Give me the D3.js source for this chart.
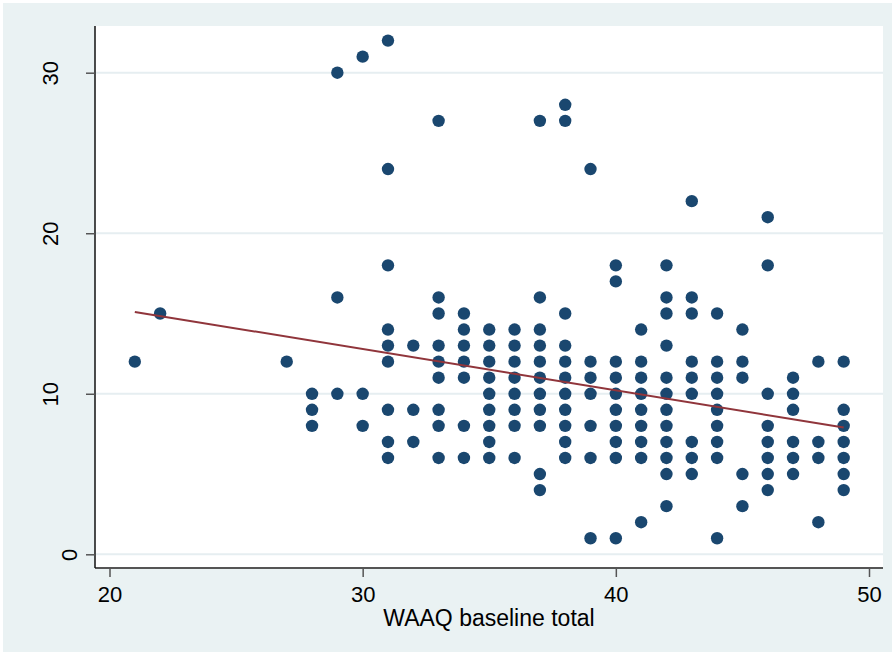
<!DOCTYPE html>
<html>
<head>
<meta charset="utf-8">
<script src="https://cdn.jsdelivr.net/npm/d3@7"></script>
<style>
  html, body { margin: 0; padding: 0; background: #ffffff; }
  svg { display: block; }
  text { font-family: "Liberation Sans", Arial, sans-serif; fill: #000; }
</style>
</head>
<body>
<div id="chart"></div>
<script>
"use strict";

//-----------------------------DATA-----------------------------//
// x = WAAQ baseline total, y = outcome score (one entry per visible dot)
const waaq = [
  21, 22, 27,
  28, 28, 28,
  29, 29, 29,
  30, 30, 30,
  31, 31, 31, 31, 31, 31, 31, 31, 31,
  32, 32, 32,
  33, 33, 33, 33, 33, 33, 33, 33, 33,
  34, 34, 34, 34, 34, 34, 34,
  35, 35, 35, 35, 35, 35, 35, 35, 35,
  36, 36, 36, 36, 36, 36, 36, 36,
  37, 37, 37, 37, 37, 37, 37, 37, 37, 37, 37,
  38, 38, 38, 38, 38, 38, 38, 38, 38, 38, 38,
  39, 39, 39, 39, 39, 39, 39,
  40, 40, 40, 40, 40, 40, 40, 40, 40, 40,
  41, 41, 41, 41, 41, 41, 41, 41, 41,
  42, 42, 42, 42, 42, 42, 42, 42, 42, 42, 42, 42,
  43, 43, 43, 43, 43, 43, 43, 43, 43,
  44, 44, 44, 44, 44, 44, 44, 44, 44,
  45, 45, 45, 45, 45,
  46, 46, 46, 46, 46, 46, 46, 46,
  47, 47, 47, 47, 47, 47,
  48, 48, 48, 48,
  49, 49, 49, 49, 49, 49, 49
];
const score = [
  12, 15, 12,
  10, 9, 8,
  30, 16, 10,
  31, 10, 8,
  32, 24, 18, 14, 13, 12, 9, 7, 6,
  13, 9, 7,
  27, 16, 15, 13, 12, 11, 9, 8, 6,
  15, 14, 13, 12, 11, 8, 6,
  14, 13, 12, 11, 10, 9, 8, 7, 6,
  14, 13, 12, 11, 10, 9, 8, 6,
  27, 16, 14, 13, 12, 11, 10, 9, 8, 5, 4,
  28, 27, 15, 13, 12, 11, 10, 9, 8, 7, 6,
  24, 12, 11, 10, 8, 6, 1,
  18, 17, 12, 11, 10, 9, 8, 7, 6, 1,
  14, 12, 11, 10, 9, 8, 7, 6, 2,
  18, 16, 15, 13, 11, 10, 9, 8, 7, 6, 5, 3,
  22, 16, 15, 12, 11, 10, 7, 6, 5,
  15, 12, 11, 10, 9, 8, 7, 6, 1,
  14, 12, 11, 5, 3,
  21, 18, 10, 8, 7, 6, 5, 4,
  11, 10, 9, 7, 6, 5,
  12, 7, 6, 2,
  12, 9, 8, 7, 6, 5, 4
];

// fitted line end points
const fitX = [21, 49];
const fitY = [15.1, 7.9];

const xTicks = [20, 30, 40, 50];
const yTicks = [0, 10, 20, 30];
const xTitle = "WAAQ baseline total";

//----------------------------LAYOUT----------------------------//
const width = 895;
const height = 655;
const plot = { left: 95, right: 883, top: 26, bottom: 568 };

const svg = d3.select("#chart").append("svg")
    .attr("width", width)
    .attr("height", height);

// graph region (Stata ltbluishgray)
svg.append("rect")
    .attr("x", 3).attr("y", 3)
    .attr("width", width - 6).attr("height", height - 6)
    .attr("fill", "#eaf2f3");

// plot region
svg.append("rect")
    .attr("x", plot.left).attr("y", plot.top)
    .attr("width", plot.right - plot.left)
    .attr("height", plot.bottom - plot.top)
    .attr("fill", "#ffffff");

//----------------------------SCALES----------------------------//
const xScale = d3.scaleLinear().domain([20, 50]).range([109.5, 869]);
const yScale = d3.scaleLinear().domain([0, 30]).range([554.3, 72.7]);

//---------------------------GRIDLINES--------------------------//
svg.append("g")
    .selectAll("line")
    .data(yTicks)
    .enter()
    .append("line")
    .attr("x1", plot.left + 1)
    .attr("x2", plot.right)
    .attr("y1", d => yScale(d))
    .attr("y2", d => yScale(d))
    .attr("stroke", "#e6eef1")
    .attr("stroke-width", 2);

//-----------------------------AXES-----------------------------//
const xaxis = d3.axisBottom(xScale)
    .tickValues(xTicks)
    .tickSize(9)
    .tickPadding(9)
    .tickFormat(d3.format("d"));

const xaxisEl = svg.append("g")
    .attr("transform", "translate(0," + plot.bottom + ")")
    .call(xaxis);
xaxisEl.select(".domain")
    .attr("d", "M" + plot.left + ",0H" + plot.right)
    .attr("stroke", "#555")
    .attr("stroke-width", 2);
xaxisEl.selectAll(".tick line").attr("stroke", "#555").attr("stroke-width", 1.5);
xaxisEl.selectAll(".tick text")
    .style("font-size", "22px")
    .style("font-family", "'Liberation Sans', Arial, sans-serif")
    .attr("fill", "#000");

const yaxis = d3.axisLeft(yScale)
    .tickValues(yTicks)
    .tickSize(9)
    .tickFormat(d3.format("d"));

const yaxisEl = svg.append("g")
    .attr("transform", "translate(" + plot.left + ",0)")
    .call(yaxis);
yaxisEl.select(".domain")
    .attr("d", "M0," + plot.top + "V" + plot.bottom)
    .attr("stroke", "#111")
    .attr("stroke-width", 1.5);
yaxisEl.selectAll(".tick line").attr("stroke", "#555").attr("stroke-width", 1.5);
// rotated labels, baseline sits further left for the longer labels
yaxisEl.selectAll(".tick text")
    .attr("x", null).attr("dy", null)
    .attr("transform", d => {
        const len = String(d).length;
        return "translate(" + (-18 - (len - 1) * 19) + ",0) rotate(-90)";
    })
    .style("text-anchor", "middle")
    .style("font-size", "22px")
    .style("font-family", "'Liberation Sans', Arial, sans-serif")
    .attr("fill", "#000");

svg.append("text")
    .attr("x", (plot.left + plot.right) / 2)
    .attr("y", 626)
    .style("text-anchor", "middle")
    .style("font-size", "23px")
    .text(xTitle);

//----------------------------POINTS----------------------------//
svg.append("g")
    .selectAll("circle")
    .data(d3.range(waaq.length))
    .enter()
    .append("circle")
    .attr("cx", i => xScale(waaq[i]))
    .attr("cy", i => yScale(score[i]))
    .attr("r", 6.2)
    .attr("fill", "#1a476f");

//-----------------------------FIT------------------------------//
const line = d3.line()
    .x(i => xScale(fitX[i]))
    .y(i => yScale(fitY[i]));

svg.append("path")
    .attr("d", line(d3.range(fitX.length)))
    .attr("fill", "none")
    .attr("stroke", "#90353b")
    .attr("stroke-width", 2);
</script>
</body>
</html>
